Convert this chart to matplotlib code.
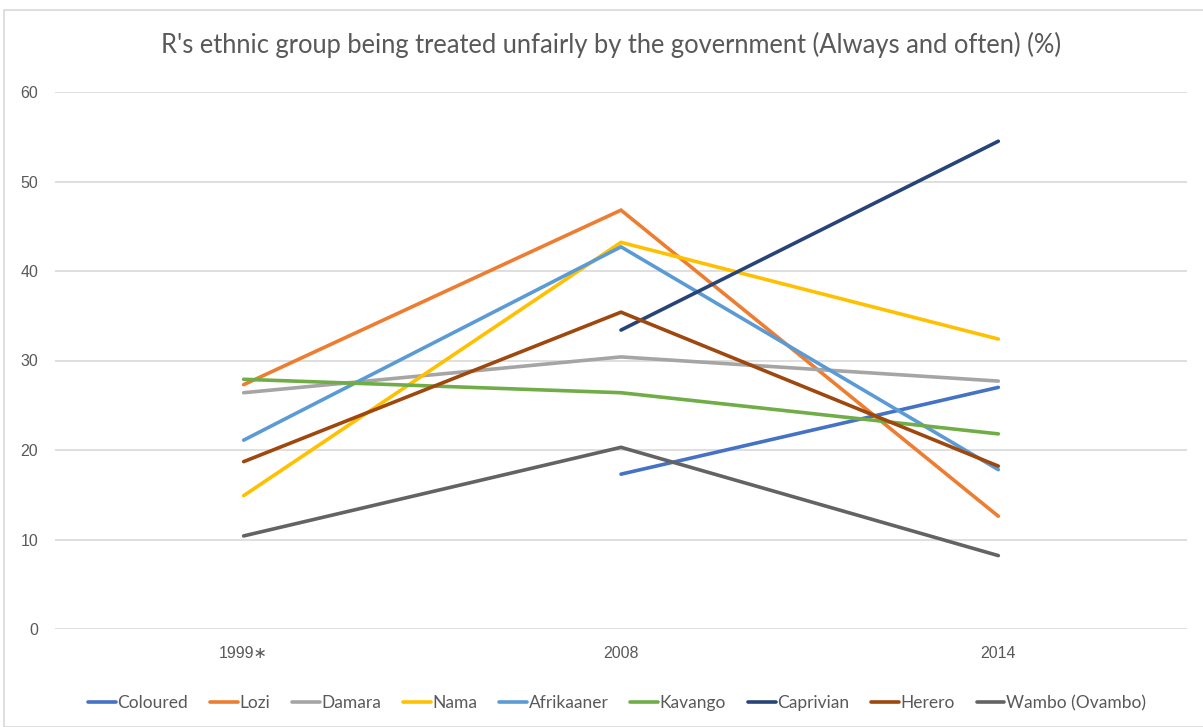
import matplotlib.pyplot as plt
import numpy as np
from matplotlib.patches import Rectangle

years = ["1999\u2217", "2008", "2014"]

coloured = [np.nan, 17.3, 27.0]
lozi = [27.3, 46.8, 12.6]
damara = [26.4, 30.4, 27.7]
nama = [14.9, 43.2, 32.4]
afrikaaner = [21.1, 42.7, 17.8]
kavango = [27.9, 26.4, 21.8]
caprivian = [np.nan, 33.4, 54.5]
herero = [18.7, 35.4, 18.2]
wambo = [10.4, 20.3, 8.2]

series = [
    ("Coloured", coloured, "#4472C4"),
    ("Lozi", lozi, "#ED7D31"),
    ("Damara", damara, "#A5A5A5"),
    ("Nama", nama, "#FFC000"),
    ("Afrikaaner", afrikaaner, "#5B9BD5"),
    ("Kavango", kavango, "#70AD47"),
    ("Caprivian", caprivian, "#264478"),
    ("Herero", herero, "#9E480E"),
    ("Wambo (Ovambo)", wambo, "#636363"),
]

W, H = 1203, 727
fig = plt.figure(figsize=(W / 100, H / 100), dpi=100)

# thin frame around the chart area
fig.patches.append(Rectangle((4 / W, 0), 1.2, 1 - 10 / H, transform=fig.transFigure,
                             facecolor="none", edgecolor="#D9D9D9", linewidth=1.2))

ax = fig.add_axes([55 / W, 1 - 629 / H, (1187 - 55) / W, (629 - 92) / H])
x = np.arange(len(years))
for name, vals, color in series:
    ax.plot(x, vals, color=color, linewidth=2.6, solid_capstyle="round",
            solid_joinstyle="miter", label=name)

ax.set_xlim(-0.5, 2.5)
ax.set_ylim(0, 60)
ax.set_yticks(range(0, 61, 10))
ax.set_xticks(x)
ax.set_xticklabels(years, family=["Liberation Sans", "DejaVu Sans"])
ax.grid(axis="y", color="#D9D9D9", linewidth=1.2)
ax.set_axisbelow(True)
for s in ax.spines.values():
    s.set_visible(False)
ax.tick_params(axis="both", length=0, labelsize=11.5, labelcolor="#595959")
ax.tick_params(axis="x", pad=12)
ax.tick_params(axis="y", pad=12)
for lbl in ax.get_yticklabels():
    lbl.set_family("Liberation Sans")

fig.text(611 / W, 1 - 45 / H, "R's ethnic group being treated unfairly by the government (Always and often) (%)",
         ha="center", va="center", fontsize=18.4, color="#595959", family="Lato")

fig.legend(loc="center", bbox_to_anchor=(617 / W, 1 - 703 / H), ncol=9, frameon=False,
           handlelength=1.6, handletextpad=0.1, columnspacing=1.25,
           prop={"family": "Lato", "size": 12.5}, labelcolor="#595959")

fig.savefig("out.png", dpi=100)
